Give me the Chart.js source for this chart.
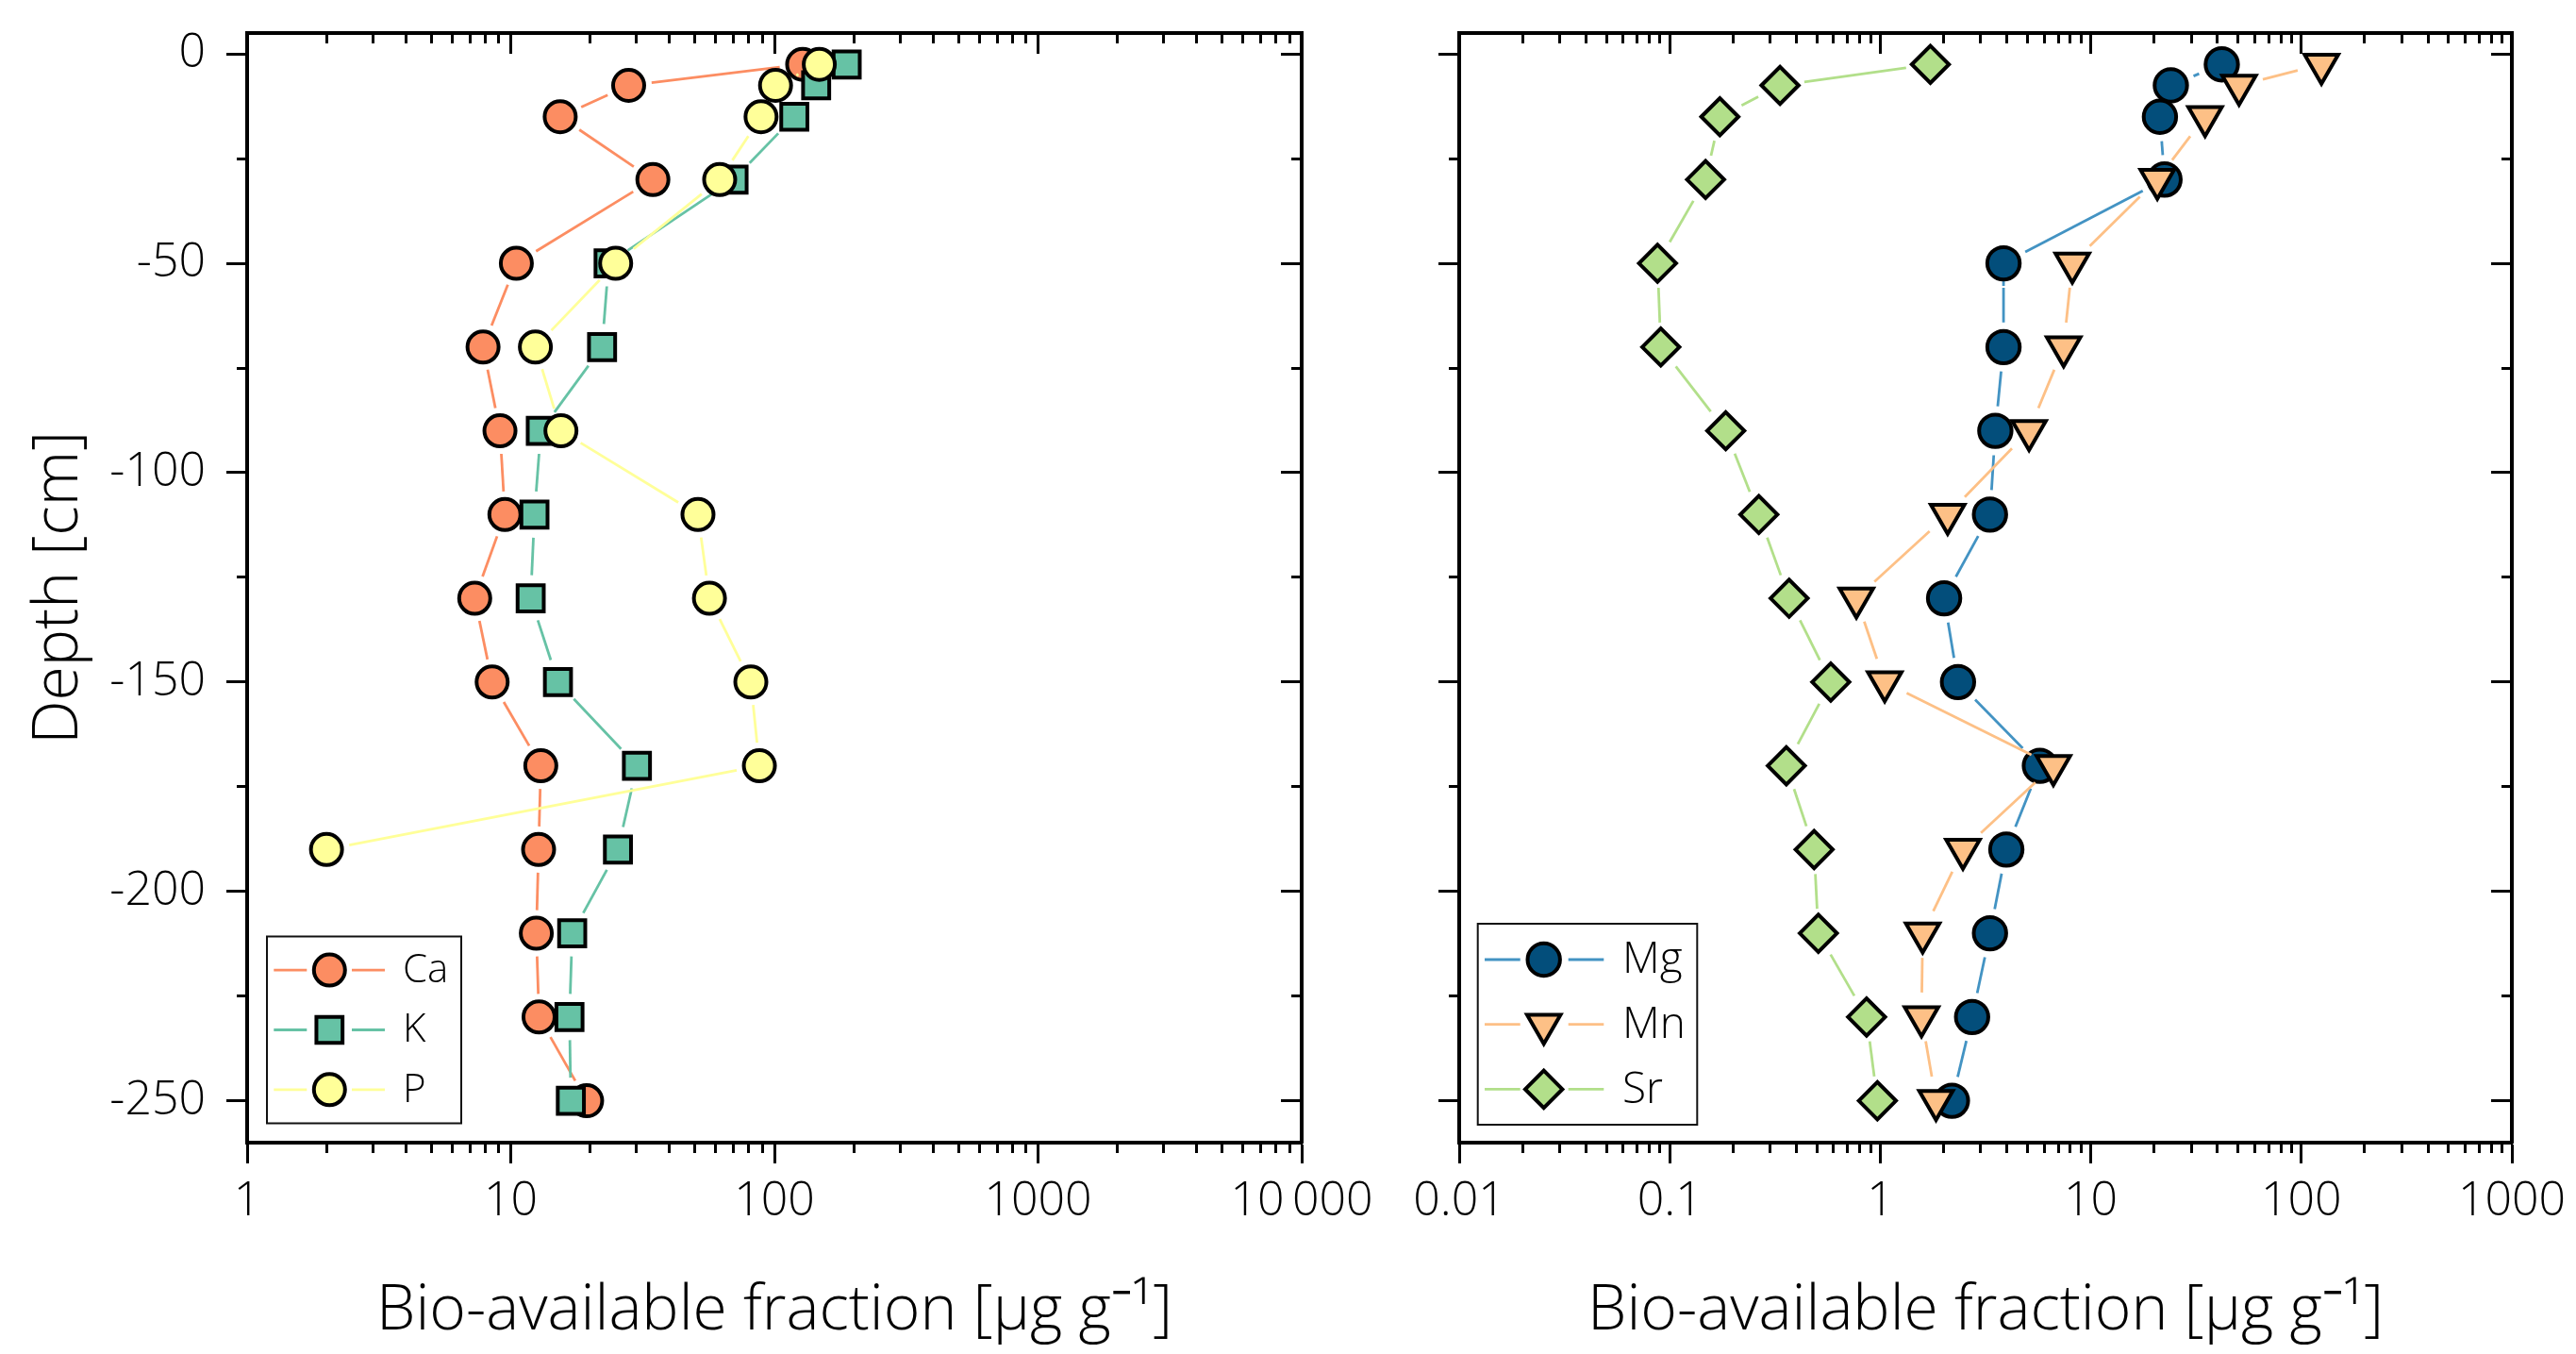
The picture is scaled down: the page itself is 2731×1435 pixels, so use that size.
<!DOCTYPE html>
<html>
<head>
<meta charset="utf-8">
<title>Bio-available fraction profiles</title>
<script src="https://cdn.jsdelivr.net/npm/chart.js@4.4.1/dist/chart.umd.min.js"></script>
<style>
  html, body { margin: 0; padding: 0; background: #fff; }
  #wrap { position: relative; width: 2731px; height: 1435px; overflow: hidden; }
  canvas { position: absolute; top: 0; }
  #leftChart { left: 0; }
  #rightChart { left: 1400px; }
</style>
</head>
<body>
<div id="wrap">
  <canvas id="leftChart" width="1480" height="1435"></canvas>
  <canvas id="rightChart" width="1331" height="1435"></canvas>
</div>
<script>
const FONT = "'Open Sans', 'Liberation Sans', sans-serif";

// sampling depths (cm), shared by every element
const depths = [-2.5, -7.5, -15, -30, -50, -70, -90, -110, -130, -150, -170, -190, -210, -230, -250];

// left panel, µg/g
const caValues = [128, 28, 15.4, 34.6, 10.5, 7.85, 9.1, 9.5, 7.3, 8.5, 13.0, 12.75, 12.5, 12.8, 19.4];
const kValues  = [188, 144, 119, 70, 23.5, 22.2, 13.0, 12.3, 11.9, 15.1, 30.1, 25.5, 17.1, 16.7, 16.9];
const pValues  = [148, 101, 89, 62, 25, 12.4, 15.5, 51.3, 56.7, 81.4, 87.7, 2.0, null, null, null];

// right panel, µg/g
const mgValues = [41.9, 24.0, 21.3, 22.4, 3.85, 3.85, 3.52, 3.32, 2.01, 2.34, 5.73, 3.97, 3.32, 2.73, 2.19];
const mnValues = [124.6, 50.6, 34.9, 20.7, 8.17, 7.43, 5.09, 2.09, 0.77, 1.05, 6.64, 2.47, 1.59, 1.57, 1.84];
const srValues = [1.73, 0.334, 0.173, 0.148, 0.0875, 0.0907, 0.1845, 0.265, 0.369, 0.582, 0.358, 0.485, 0.508, 0.861, 0.969];

// tick positions / labels
const yMajorTicks = [0, -50, -100, -150, -200, -250];
const yMinorTicks = [-25, -75, -125, -175, -225];
const leftXTicks = [1, 10, 100, 1000, 10000];
const leftXLabels = ['1', '10', '100', '1000', '10\u2009000'];
const rightXTicks = [0.01, 0.1, 1, 10, 100, 1000];
const rightXLabels = ['0.01', '0.1', '1', '10', '100', '1000'];

const X_TITLE = 'Bio-available fraction [µg g⁻¹]';
const Y_TITLE = 'Depth [cm]';

function minorLogTicks(majors) {
  const out = [];
  majors.slice(0, -1).forEach(d => { for (let k = 2; k <= 9; k++) out.push(k * d); });
  return out;
}

function zeroPad(s) {
  s.paddingTop = 0; s.paddingBottom = 0; s.paddingLeft = 0; s.paddingRight = 0;
}

// line stops short of each marker, like the original
function gapDash(ctx, gap) {
  const L = Math.hypot(ctx.p1.x - ctx.p0.x, ctx.p1.y - ctx.p0.y);
  if (L <= 2 * gap) return [0, L + 50];
  return [0, gap, L - 2 * gap, gap + 50];
}

function series(label, values, lineColor, fill, style, rotation, radius, order, gap) {
  return {
    label,
    data: depths.map((d, i) => ({ x: values[i], y: d })),
    showLine: true,
    borderColor: lineColor,
    borderWidth: 2.8,
    borderCapStyle: 'butt',
    tension: 0,
    pointStyle: style,
    rotation,
    pointRadius: radius,
    pointHoverRadius: radius,
    pointBackgroundColor: fill,
    pointBorderColor: '#000',
    pointBorderWidth: 4,
    pointHoverBorderWidth: 4,
    order,
    segment: { borderDash: ctx => gapDash(ctx, gap) },
  };
}

// extra axes used only for tick marks (inner/outer, major/minor)
function tickAxis(axis, position, type, min, max, values, length, border) {
  return {
    axis, position, type, min, max, weight: 0,
    afterBuildTicks: s => { s.ticks = values.map(v => ({ value: v })); },
    afterFit: s => { if (axis === 'x') s.height = 0; else s.width = 0; zeroPad(s); },
    grid: { display: true, drawOnChartArea: false, drawTicks: true, tickLength: length, tickWidth: 3, tickColor: '#000' },
    border: { display: border, width: 4, color: '#000' },
    ticks: { display: false },
  };
}

function buildScales(xMin, xMax, xTicks, xLabels, showYLabels, yAxisWidth) {
  const xMinor = minorLogTicks(xTicks);
  return {
    x: {
      type: 'logarithmic', position: 'bottom', min: xMin, max: xMax, weight: 1,
      afterBuildTicks: s => { s.ticks = xTicks.map(v => ({ value: v })); },
      afterFit: s => { s.height = 224; zeroPad(s); },
      grid: { drawOnChartArea: false, tickLength: 22, tickWidth: 3, tickColor: '#000' },
      border: { width: 4, color: '#000' },
      ticks: {
        autoSkip: false, maxRotation: 0, padding: 11, color: '#000',
        font: { family: FONT, size: 50, weight: '300' },
        callback: (v, i) => xLabels[i],
      },
      title: { display: true, text: X_TITLE, color: '#000', font: { family: FONT, size: 66, weight: '300' }, padding: { bottom: 5 } },
    },
    xMinor: tickAxis('x', 'bottom', 'logarithmic', xMin, xMax, xMinor, 11, false),
    xTop: tickAxis('x', 'top', 'logarithmic', xMin, xMax, xTicks, -22, true),
    xTopMinor: tickAxis('x', 'top', 'logarithmic', xMin, xMax, xMinor, -11, false),
    y: {
      type: 'linear', position: 'left', min: -260, max: 5, weight: 1,
      afterBuildTicks: s => { s.ticks = yMajorTicks.map(v => ({ value: v })); },
      afterFit: s => { s.width = yAxisWidth; zeroPad(s); },
      grid: { drawOnChartArea: false, tickLength: 22, tickWidth: 3, tickColor: '#000' },
      border: { width: 4, color: '#000' },
      ticks: {
        display: showYLabels, autoSkip: false, padding: 22, color: '#000',
        font: { family: FONT, size: 50, weight: '300' },
        callback: v => String(v),
      },
      title: { display: showYLabels, text: Y_TITLE, color: '#000', font: { family: FONT, size: 66, weight: '300' }, padding: { top: 24 } },
    },
    yMinor: tickAxis('y', 'left', 'linear', -260, 5, yMinorTicks, 11, false),
    yRight: tickAxis('y', 'right', 'linear', -260, 5, yMajorTicks, -22, true),
    yRightMinor: tickAxis('y', 'right', 'linear', -260, 5, yMinorTicks, -11, false),
  };
}

// legend drawn inside the plot, bottom-left: line - marker - line, label
const insideLegend = {
  id: 'insideLegend',
  afterDatasetsDraw(chart, args, o) {
    const { ctx, chartArea } = chart;
    const bx = chartArea.left + o.dx;
    const by = chartArea.bottom - o.dy - o.h;
    ctx.save();
    ctx.fillStyle = '#fff';
    ctx.fillRect(bx, by, o.w, o.h);
    ctx.lineWidth = 2;
    ctx.strokeStyle = '#111';
    ctx.strokeRect(bx, by, o.w, o.h);

    const sets = chart.data.datasets.slice().sort((a, b) => b.order - a.order);
    sets.forEach((ds, i) => {
      const ry = by + o.rows[i];
      ctx.strokeStyle = ds.borderColor;
      ctx.lineWidth = ds.borderWidth;
      ctx.lineCap = 'butt';
      ctx.beginPath();
      ctx.moveTo(bx + o.line1[0], ry); ctx.lineTo(bx + o.line1[1], ry);
      ctx.moveTo(bx + o.line2[0], ry); ctx.lineTo(bx + o.line2[1], ry);
      ctx.stroke();

      ctx.fillStyle = ds.pointBackgroundColor;
      ctx.strokeStyle = '#000';
      ctx.lineWidth = ds.pointBorderWidth;
      const opts = { pointStyle: ds.pointStyle, rotation: ds.rotation || 0, radius: ds.pointRadius, borderWidth: ds.pointBorderWidth };
      if (Chart.helpers && Chart.helpers.drawPoint) {
        Chart.helpers.drawPoint(ctx, opts, bx + o.markerX, ry);
      } else {
        ctx.beginPath();
        ctx.arc(bx + o.markerX, ry, ds.pointRadius, 0, Math.PI * 2);
        ctx.fill(); ctx.stroke();
      }

      ctx.fillStyle = '#000';
      ctx.font = `300 ${o.fontSize}px ${FONT}`;
      ctx.textBaseline = 'middle';
      ctx.textAlign = 'left';
      ctx.fillText(ds.label, bx + o.textX, ry + 1);
    });
    ctx.restore();
  },
};

function makeChart(canvasId, datasets, scales, padding, legendOpts) {
  return new Chart(document.getElementById(canvasId), {
    type: 'scatter',
    data: { datasets },
    options: {
      responsive: false,
      animation: false,
      devicePixelRatio: 1,
      layout: { padding },
      plugins: {
        legend: { display: false },
        tooltip: { enabled: false },
        insideLegend: legendOpts,
      },
      scales,
    },
    plugins: [insideLegend],
  });
}

makeChart('leftChart', [
  series('Ca', caValues, '#fc8d62', '#fc8d62', 'circle', 0, 16.5, 3, 24.5),
  series('K', kValues, '#66c2a5', '#66c2a5', 'rect', 0, 19.6, 2, 24.5),
  series('P', pValues, '#ffff99', '#ffff99', 'circle', 0, 16.5, 1, 24.5),
], buildScales(1, 10000, leftXTicks, leftXLabels, true, 262),
  { top: 35, right: 100, bottom: 0, left: 0 },
  { dx: 21, dy: 20.5, w: 206, h: 198, rows: [35.6, 99, 162.3], line1: [7.3, 42.3], line2: [90, 125], markerX: 66.3, textX: 144, fontSize: 42 });

makeChart('rightChart', [
  series('Mg', mgValues, '#4393c3', '#034e7b', 'circle', 0, 17.2, 3, 26),
  series('Mn', mnValues, '#fdc086', '#fdc086', 'triangle', 180, 20.5, 2, 26),
  series('Sr', srValues, '#b2df8a', '#b2df8a', 'rectRot', 0, 19.7, 1, 26),
], buildScales(0.01, 1000, rightXTicks, rightXLabels, false, 147),
  { top: 35, right: 68, bottom: 0, left: 0 },
  { dx: 19.7, dy: 19, w: 232.6, h: 213, rows: [38, 106.7, 175.4], line1: [7.3, 45], line2: [96, 133.6], markerX: 70, textX: 153.3, fontSize: 46 });
</script>
</body>
</html>
